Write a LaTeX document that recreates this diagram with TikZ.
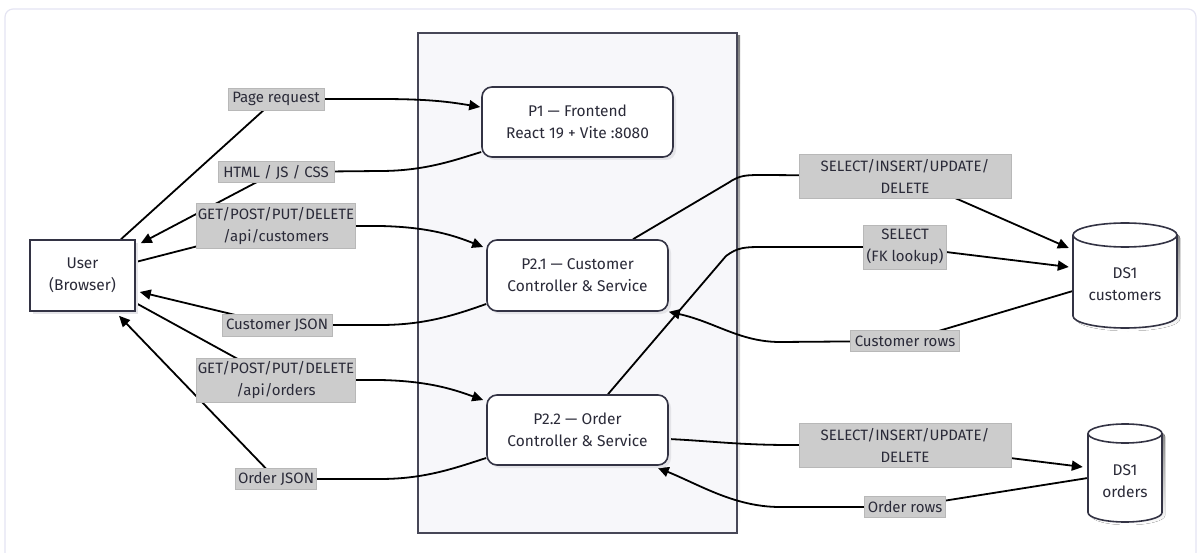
\documentclass[tikz,border=0pt]{standalone}
\usepackage{fontspec}
\setmainfont{Fira Sans}
\usetikzlibrary{arrows.meta,shadows}
\definecolor{ink}{HTML}{2A2A38}
\definecolor{edge}{HTML}{333344}
\definecolor{labelfill}{HTML}{CCCCCC}
\definecolor{labeldraw}{HTML}{B8B8B8}
\definecolor{cardline}{HTML}{E4E4F2}
\definecolor{groupfill}{HTML}{F7F7FA}
\definecolor{shade}{HTML}{E4E4E8}
\pgfdeclarelayer{back}
\pgfdeclarelayer{wires}
\pgfsetlayers{back,wires,main}

\begin{document}
\begin{tikzpicture}[x=1pt,y=-1pt,
  font=\fontsize{15.5}{22}\selectfont,
  every node/.style={text=ink},
  proc/.style={draw=edge, line width=1.6pt, fill=white, align=center,
    rounded corners=10pt, inner sep=0pt,
    drop shadow={shadow xshift=3pt, shadow yshift=-3pt, fill=shade, opacity=1}},
  actor/.style={draw=edge, line width=1.6pt, fill=white, align=center, inner sep=0pt,
    drop shadow={shadow xshift=3pt, shadow yshift=-3pt, fill=shade, opacity=1}},
  store/.style={align=center, inner sep=0pt},
  dbline/.style={draw=edge, line width=1.6pt},
  tag/.style={fill=labelfill, draw=labeldraw, line width=0.6pt, align=center,
    inner sep=0pt, font=\fontsize{15}{22}\selectfont},
  flow/.style={draw=black, line width=1.8pt},
  tip/.style={-{Triangle[length=11pt,width=10pt]}},
]
\useasboundingbox (0,0) rectangle (1199,553);

\begin{pgfonlayer}{back}
  % card frame
  \draw[cardline, line width=1.2pt, rounded corners=8pt] (5,9) rectangle (1196,580);
  % application boundary
  \fill[shade] (421,36) rectangle (740,536);
  \draw[draw=edge!90, fill=groupfill, line width=1.6pt] (418,33) rectangle (737,533);
\end{pgfonlayer}

% processes and actor
\node[actor, minimum width=105pt, minimum height=71pt] (user) at (82.5,275.5) {User\\(Browser)};
\node[proc, minimum width=191pt, minimum height=70pt] (p1) at (577.5,122) {P1 — Frontend\\React 19 + Vite :8080};
\node[proc, minimum width=181pt, minimum height=71pt] (p21) at (577.5,275.5) {P2.1 — Customer\\Controller \& Service};
\node[proc, minimum width=181pt, minimum height=70pt] (p22) at (577.5,430) {P2.2 — Order\\Controller \& Service};

% data stores
\fill[shade] (1076,238) -- (1076,319) arc[start angle=180,end angle=0,x radius=52,y radius=12]
  -- (1180,238) arc[start angle=0,end angle=-180,x radius=52,y radius=12] -- cycle;
\draw[dbline, fill=white] (1073,235) -- (1073,316) arc[start angle=180,end angle=0,x radius=52,y radius=12]
  -- (1177,235) arc[start angle=0,end angle=-180,x radius=52,y radius=12] -- cycle;
\draw[dbline] (1073,235) arc[start angle=180,end angle=0,x radius=52,y radius=12];
\node[store, minimum width=104pt] (dsc) at (1125,284) {DS1\\customers};

\fill[shade] (1091,436.5) -- (1091,515.5) arc[start angle=180,end angle=0,x radius=37,y radius=9.5]
  -- (1165,436.5) arc[start angle=0,end angle=-180,x radius=37,y radius=9.5] -- cycle;
\draw[dbline, fill=white] (1088,433.5) -- (1088,512.5) arc[start angle=180,end angle=0,x radius=37,y radius=9.5]
  -- (1162,433.5) arc[start angle=0,end angle=-180,x radius=37,y radius=9.5] -- cycle;
\draw[dbline] (1088,433.5) arc[start angle=180,end angle=0,x radius=37,y radius=9.5];
\node[store, minimum width=74pt] (dso) at (1125,481) {DS1\\orders};

% edge labels
\node[tag, minimum width=96pt, minimum height=22pt] (lPage) at (276,99) {Page request};
\node[tag, minimum width=116pt, minimum height=21pt] (lHtml) at (276,172) {HTML / JS / CSS};
\node[tag, minimum width=159pt, minimum height=45pt] (lGetC) at (276,226) {GET/POST/PUT/DELETE\\/api/customers};
\node[tag, minimum width=110pt, minimum height=22pt] (lCjson) at (277,325) {Customer JSON};
\node[tag, minimum width=159pt, minimum height=44pt] (lGetO) at (276,380) {GET/POST/PUT/DELETE\\/api/orders};
\node[tag, minimum width=81pt, minimum height=21pt] (lOjson) at (276,479) {Order JSON};
\node[tag, minimum width=212pt, minimum height=44pt] (lSqlC) at (905,176) {SELECT/INSERT/UPDATE/\\DELETE};
\node[tag, minimum width=83pt, minimum height=44pt] (lFk) at (905,247) {SELECT\\(FK lookup)};
\node[tag, minimum width=109pt, minimum height=21pt] (lCrows) at (905,341) {Customer rows};
\node[tag, minimum width=212pt, minimum height=44pt] (lSqlO) at (905,445) {SELECT/INSERT/UPDATE/\\DELETE};
\node[tag, minimum width=81pt, minimum height=21pt] (lOrows) at (905,507) {Order rows};

% data flows
\begin{pgfonlayer}{wires}
  \draw[flow,tip] ([xshift=38.5pt]user.north) -- (lPage.center) -- (380,99)
    .. controls (430,99) and (450,102) .. ([xshift=-1pt,yshift=15pt]p1.west);
  \draw[flow,tip] ([yshift=-30pt]p1.west) .. controls (455,160) and (425,171) .. (380,171)
    -- (lHtml.center) -- ([xshift=5pt,yshift=-4pt]user.north east);
  \draw[flow,tip] ([yshift=13.5pt]user.east) -- (lGetC.center) -- (380,226)
    .. controls (430,227) and (455,236) .. ([xshift=-3pt,yshift=28.5pt]p21.west);
  \draw[flow,tip] ([yshift=-28.5pt]p21.west) .. controls (455,315) and (425,325) .. (380,325)
    -- (lCjson.center) -- ([xshift=4pt,yshift=-16.5pt]user.east);
  \draw[flow,tip] ([yshift=-27.5pt]user.east) -- (lGetO.center) -- (380,380)
    .. controls (430,381) and (455,390) .. ([xshift=-3pt,yshift=30pt]p22.west);
  \draw[flow,tip] ([yshift=-28pt]p22.west) .. controls (455,468) and (425,479) .. (380,479)
    -- (lOjson.center) -- ([xshift=36.5pt,yshift=-4pt]user.south);
  \draw[flow,tip] ([xshift=55.5pt]p21.north) -- (728,183) .. controls (740,175) and (745,175) .. (765,175)
    -- (lSqlC.center) -- ([xshift=-4pt,yshift=36pt]dsc.west);
  \draw[flow,tip] ([xshift=30.5pt]p22.north) -- (726,256) .. controls (738,247) and (745,247) .. (765,247)
    -- (lFk.center) -- ([xshift=-4pt,yshift=17pt]dsc.west);
  \draw[flow,tip] ([yshift=-7pt]dsc.west) -- (lCrows.center) -- (780,342)
    .. controls (740,342) and (715,322) .. (p21.south east);
  \draw[flow,tip] ([yshift=-9pt]p22.east) .. controls (710,441) and (740,445) .. (790,445)
    -- (lSqlO.center) -- ([xshift=-5pt,yshift=14pt]dso.west);
  \draw[flow,tip] ([yshift=3pt]dso.west) -- (lOrows.center) -- (780,507)
    .. controls (735,507) and (700,485) .. ([xshift=-11pt,yshift=-2pt]p22.south east);
\end{pgfonlayer}
\end{tikzpicture}
\end{document}
